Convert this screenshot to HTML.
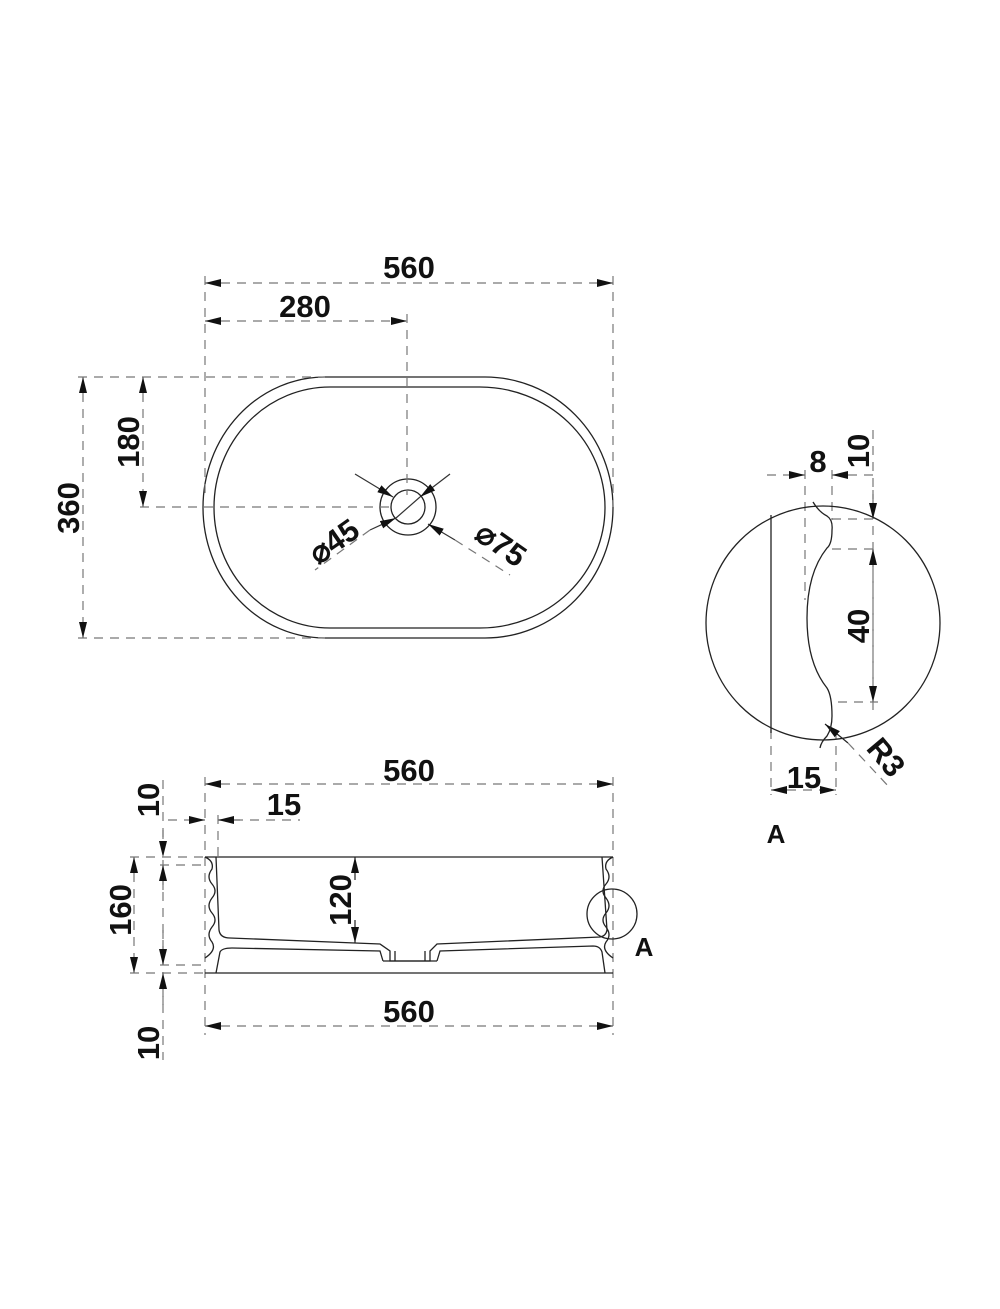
<!DOCTYPE html>
<html><head><meta charset="utf-8"><style>
html,body{margin:0;padding:0;background:#fff;}
svg{display:block;}
text{font-family:"Liberation Sans",sans-serif;font-weight:bold;fill:#111;}
</style></head><body>
<svg width="1000" height="1309" viewBox="0 0 1000 1309" xmlns="http://www.w3.org/2000/svg">
<defs>
<marker id="a" viewBox="0 0 16 10" refX="16" refY="5" markerWidth="16" markerHeight="10" markerUnits="userSpaceOnUse" orient="auto-start-reverse">
<path d="M0,1 L16,5 L0,9 Z" fill="#111"/></marker>
</defs>
<g fill="none" stroke="#222" stroke-width="1.3">
<path d="M325,377 H485 A128,130.5 0 0 1 485,638 H325 A122,130.5 0 0 1 325,377 Z"/>
<path d="M330,387 H480 A125,120.5 0 0 1 480,628 H330 A116,120.5 0 0 1 330,387 Z"/>
<circle cx="408" cy="507" r="28"/>
<circle cx="408" cy="507" r="17"/>
</g>
<g fill="none" stroke="#777" stroke-width="1.2" stroke-dasharray="9,7">
<line x1="205" y1="276" x2="205" y2="500"/>
<line x1="613" y1="276" x2="613" y2="507"/>
<line x1="407" y1="314" x2="407" y2="495"/>
<line x1="78" y1="377" x2="325" y2="377"/>
<line x1="140" y1="507" x2="395" y2="507"/>
<line x1="78" y1="638" x2="325" y2="638"/>
<line x1="205" y1="777" x2="205" y2="1035"/>
<line x1="613" y1="777" x2="613" y2="1035"/>
<line x1="218" y1="815" x2="218" y2="857"/>
<line x1="163" y1="780" x2="163" y2="1060"/>
<line x1="130" y1="857" x2="205" y2="857"/>
<line x1="130" y1="973" x2="205" y2="973"/>
<line x1="160" y1="865" x2="205" y2="865"/>
<line x1="160" y1="965" x2="205" y2="965"/>
<line x1="805" y1="470" x2="805" y2="600"/>
<line x1="832" y1="470" x2="832" y2="520"/>
<line x1="873" y1="430" x2="873" y2="710"/>
<line x1="832" y1="519" x2="878" y2="519"/>
<line x1="832" y1="549" x2="878" y2="549"/>
<line x1="838" y1="702" x2="878" y2="702"/>
<line x1="771" y1="730" x2="771" y2="795"/>
<line x1="836" y1="730" x2="836" y2="795"/>
</g>
<g stroke="#777" stroke-width="1.2" stroke-dasharray="9,7" fill="none">
<line x1="205" y1="283" x2="613" y2="283" marker-start="url(#a)" marker-end="url(#a)"/>
<line x1="205" y1="321" x2="407" y2="321" marker-start="url(#a)" marker-end="url(#a)"/>
<line x1="83" y1="377" x2="83" y2="638" marker-start="url(#a)" marker-end="url(#a)"/>
<line x1="143" y1="377" x2="143" y2="507" marker-start="url(#a)" marker-end="url(#a)"/>
<line x1="205" y1="784" x2="613" y2="784" marker-start="url(#a)" marker-end="url(#a)"/>
<line x1="205" y1="1026" x2="613" y2="1026" marker-start="url(#a)" marker-end="url(#a)"/>
<line x1="134" y1="857" x2="134" y2="973" marker-start="url(#a)" marker-end="url(#a)"/>
<line x1="873" y1="549" x2="873" y2="702" marker-start="url(#a)" marker-end="url(#a)"/>
<line x1="771" y1="790" x2="836" y2="790" marker-start="url(#a)" marker-end="url(#a)"/>
<line x1="218" y1="820" x2="300" y2="820"/>
<line x1="240" y1="820" x2="218" y2="820" marker-end="url(#a)"/>
<line x1="168" y1="820" x2="205" y2="820" marker-end="url(#a)"/>
<line x1="163" y1="830" x2="163" y2="857" marker-end="url(#a)"/>
<line x1="163" y1="890" x2="163" y2="865" marker-end="url(#a)"/>
<line x1="163" y1="930" x2="163" y2="965" marker-end="url(#a)"/>
<line x1="163" y1="1005" x2="163" y2="973" marker-end="url(#a)"/>
<line x1="767" y1="475" x2="805" y2="475" marker-end="url(#a)"/>
<line x1="873" y1="475" x2="832" y2="475" marker-end="url(#a)"/>
<line x1="873" y1="490" x2="873" y2="519" marker-end="url(#a)"/>
<line x1="355" y1="474" x2="393" y2="497" marker-end="url(#a)" stroke-dasharray="none" stroke="#333"/>
<line x1="450" y1="474" x2="420" y2="497" marker-end="url(#a)" stroke-dasharray="none" stroke="#333"/>
<line x1="370" y1="530" x2="396" y2="518" marker-end="url(#a)" stroke-dasharray="none" stroke="#333"/>
<line x1="455" y1="540" x2="428" y2="524" marker-end="url(#a)" stroke-dasharray="none" stroke="#333"/>
<line x1="396" y1="518" x2="420" y2="497" stroke-dasharray="none" stroke="#333"/>
<line x1="370" y1="530" x2="315" y2="570"/>
<line x1="455" y1="540" x2="510" y2="575"/>
<line x1="355" y1="880" x2="355" y2="857" marker-end="url(#a)" stroke-dasharray="none" stroke="#222"/>
<line x1="355" y1="920" x2="355" y2="943" marker-end="url(#a)" stroke-dasharray="none" stroke="#222"/>
<line x1="825" y1="724" x2="848" y2="743" marker-start="url(#a)" stroke-dasharray="none" stroke="#222"/>
<line x1="848" y1="743" x2="890" y2="788"/>
</g>
<g fill="none" stroke="#222" stroke-width="1.3">
<line x1="205" y1="857" x2="613" y2="857"/>
<line x1="205" y1="973" x2="613" y2="973"/>
<path d="M205,857 q9,4 7,12 q-6,8 0,15 q6,7 0,14 q-6,8 0,15 q6,7 0,14 q-6,8 0,15 q5,8 -7,16"/>
<path d="M613,857 q-9,4 -7,12 q6,8 0,15 q-6,7 0,14 q6,8 0,15 q-6,7 0,14 q6,8 0,15 q-5,8 7,16"/>
<path d="M216,857 L219,930 Q220,938 230,938 L355,943 L380,944 L390,951 L390,961 L430,961 L430,951 L437,944 L600,937 Q606,936 607,930 L602,857"/>
<path d="M216,973 L220,952 Q222,948 232,948 L380,951 L383,961 M437,961 L440,951 L593,946 Q600,946 602,952 L605,973"/>
<line x1="395" y1="951" x2="395" y2="961"/><line x1="425" y1="951" x2="425" y2="961"/>
<line x1="383" y1="961" x2="437" y2="961"/>
<circle cx="612" cy="914" r="25"/>
<circle cx="823" cy="623" r="117"/>
<line x1="771" y1="515" x2="771" y2="733"/>
<path d="M813,502 q6,10 14,14 q6,4 5,14 q0,14 -5,18 q-20,25 -20,70 q0,45 20,70 q5,8 5,28 q0,12 -5,20 q-6,6 -7,12"/>
</g>
<g font-size="31">
<text x="409" y="278" text-anchor="middle">560</text>
<text x="305" y="317" text-anchor="middle">280</text>
<text x="409" y="781" text-anchor="middle">560</text>
<text x="409" y="1022" text-anchor="middle">560</text>
<text x="284" y="815" text-anchor="middle">15</text>
<text x="804" y="788" text-anchor="middle">15</text>
<text x="818" y="472" text-anchor="middle">8</text>
<text transform="translate(79,508) rotate(-90)" text-anchor="middle">360</text>
<text transform="translate(139,442) rotate(-90)" text-anchor="middle">180</text>
<text transform="translate(131,910) rotate(-90)" text-anchor="middle">160</text>
<text transform="translate(351,900) rotate(-90)" text-anchor="middle">120</text>
<text transform="translate(159,800) rotate(-90)" text-anchor="middle">10</text>
<text transform="translate(159,1043) rotate(-90)" text-anchor="middle">10</text>
<text transform="translate(869,451) rotate(-90)" text-anchor="middle">10</text>
<text transform="translate(869,626) rotate(-90)" text-anchor="middle">40</text>
<text transform="translate(340,550) rotate(-35)" text-anchor="middle">⌀45</text>
<text transform="translate(495,553) rotate(35)" text-anchor="middle">⌀75</text>
<text transform="translate(878,764) rotate(50)" text-anchor="middle">R3</text>
<text x="644" y="956" text-anchor="middle" font-size="26">A</text>
<text x="776" y="843" text-anchor="middle" font-size="26">A</text>
</g>
</svg>
</body></html>
